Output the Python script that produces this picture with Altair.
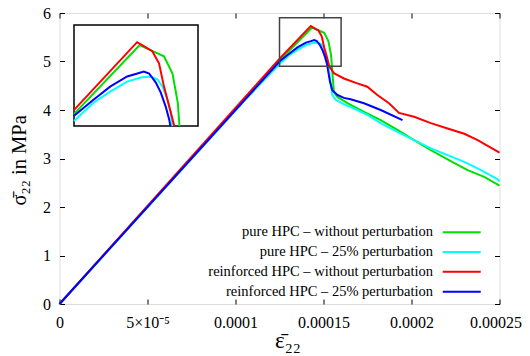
import altair as alt
import pandas as pd

# ---------------- data ----------------
series = [
    "pure HPC – without perturbation",
    "pure HPC – 25% perturbation",
    "reinforced HPC – without perturbation",
    "reinforced HPC – 25% perturbation",
]
colors = ["#00e000", "#00ffff", "#ff0000", "#0000ff"]

green_x = [0, 1.253e-4, 1.435e-4, 1.504e-4, 1.528e-4, 1.543e-4, 1.550e-4, 1.559e-4,
           1.579e-4, 1.636e-4, 1.730e-4, 1.825e-4, 1.920e-4, 2.015e-4, 2.110e-4,
           2.205e-4, 2.319e-4, 2.413e-4, 2.500e-4]
green_y = [0, 5.03, 5.70, 5.59, 5.42, 5.13, 4.79, 4.38, 4.27, 4.14, 3.96, 3.79, 3.59,
           3.38, 3.17, 2.98, 2.76, 2.62, 2.44]

cyan_x = [0, 1.050e-4, 1.253e-4, 1.305e-4, 1.352e-4, 1.400e-4, 1.438e-4, 1.466e-4,
          1.486e-4, 1.500e-4, 1.514e-4, 1.523e-4, 1.528e-4, 1.540e-4, 1.550e-4,
          1.569e-4, 1.616e-4, 1.692e-4, 1.749e-4, 1.825e-4, 1.920e-4, 2.015e-4,
          2.110e-4, 2.205e-4, 2.300e-4, 2.395e-4, 2.490e-4, 2.500e-4]
cyan_y = [0, 4.19, 4.96, 5.13, 5.24, 5.34, 5.38, 5.39, 5.36, 5.29, 5.16, 5.03, 4.90,
          4.58, 4.31, 4.21, 4.12, 4.00, 3.90, 3.73, 3.55, 3.38, 3.21, 3.07, 2.93,
          2.76, 2.57, 2.53]

red_x = [0, 1.253e-4, 1.428e-4, 1.447e-4, 1.471e-4, 1.490e-4, 1.504e-4, 1.519e-4,
         1.533e-4, 1.559e-4, 1.616e-4, 1.692e-4, 1.749e-4, 1.806e-4, 1.872e-4,
         1.929e-4, 2.015e-4, 2.110e-4, 2.205e-4, 2.300e-4, 2.376e-4, 2.433e-4,
         2.500e-4]
red_y = [0, 5.07, 5.73, 5.69, 5.64, 5.52, 5.29, 5.09, 4.90, 4.76, 4.65, 4.55, 4.48,
         4.31, 4.14, 3.94, 3.86, 3.73, 3.62, 3.51, 3.38, 3.26, 3.12]

blue_x = [0, 1.050e-4, 1.253e-4, 1.305e-4, 1.352e-4, 1.400e-4, 1.429e-4, 1.447e-4,
          1.462e-4, 1.481e-4, 1.495e-4, 1.509e-4, 1.519e-4, 1.537e-4, 1.550e-4,
          1.579e-4, 1.616e-4, 1.654e-4, 1.730e-4, 1.825e-4, 1.949e-4]
blue_y = [0, 4.20, 5.01, 5.16, 5.29, 5.39, 5.42, 5.44, 5.42, 5.33, 5.23, 5.09, 4.96,
          4.58, 4.41, 4.31, 4.25, 4.22, 4.14, 4.00, 3.79]

x_ticks = [0, 5e-5, 1e-4, 1.5e-4, 2e-4, 2.5e-4]
x_tick_labels = ["0", "5×10⁻⁵", "0.0001", "0.00015", "0.0002", "0.00025"]
y_ticks = [0, 1, 2, 3, 4, 5, 6]

x_domain = [0, 2.5e-4]
y_domain = [0, 6]
# zoomed window shown in the inset
zoom_x = [1.25e-4, 1.60e-4]
zoom_y = [4.9, 5.9]

# ---------------- layout / style ----------------
W, H = 440, 291
SERIF = "Liberation Serif"
inset_x_range = [14.5, 138.5]
inset_y_range = [113, 12]

all_xy = [(green_x, green_y), (cyan_x, cyan_y), (red_x, red_y), (blue_x, blue_y)]

rows = []
for k, (xs, ys) in enumerate(all_xy):
    for i, (x, y) in enumerate(zip(xs, ys)):
        rows.append({"strain": x, "stress": y, "series": series[k], "col": colors[k],
                     "o": k * 1000 + i})
df = pd.DataFrame(rows)


def clip_seg(p0, p1, xmin, xmax, ymin, ymax):
    x0, y0 = p0
    x1, y1 = p1
    dx, dy = x1 - x0, y1 - y0
    t0, t1 = 0.0, 1.0
    for p, q in ((-dx, x0 - xmin), (dx, xmax - x0), (-dy, y0 - ymin), (dy, ymax - y0)):
        if p == 0:
            if q < 0:
                return None
        else:
            r = q / p
            if p < 0:
                if r > t1:
                    return None
                t0 = max(t0, r)
            else:
                if r < t0:
                    return None
                t1 = min(t1, r)
    return (x0 + t0 * dx, y0 + t0 * dy), (x0 + t1 * dx, y0 + t1 * dy)


inset_rows = []
for k, (xs, ys) in enumerate(all_xy):
    pts = []
    for i in range(len(xs) - 1):
        seg = clip_seg((xs[i], ys[i]), (xs[i + 1], ys[i + 1]),
                       zoom_x[0], zoom_x[1], zoom_y[0], zoom_y[1])
        if seg is None:
            continue
        for p in seg:
            if not pts or abs(pts[-1][0] - p[0]) > 1e-12 or abs(pts[-1][1] - p[1]) > 1e-9:
                pts.append(p)
    for i, (x, y) in enumerate(pts):
        inset_rows.append({"strain": x, "stress": y, "series": series[k], "col": colors[k],
                           "o": k * 1000 + i})
df_inset = pd.DataFrame(inset_rows)
df_box = pd.DataFrame({"x": [zoom_x[0]], "x2": [zoom_x[1]], "y": [zoom_y[0]], "y2": [zoom_y[1]]})

label_expr = "[" + ",".join("'%s'" % s for s in x_tick_labels) + "][round(datum.value*20000)]"

xs_main = alt.Scale(domain=x_domain, nice=False, zero=False)
ys_main = alt.Scale(domain=y_domain, nice=False, zero=False)

# main lines with labelled axes
lines = alt.Chart(df).mark_line(strokeWidth=2).encode(
    x=alt.X("strain:Q", scale=xs_main,
            axis=alt.Axis(orient="bottom", values=x_ticks, labelExpr=label_expr,
                          ticks=False, tickSize=0, domain=False, grid=False,
                          labelFont=SERIF, labelFontSize=16, labelColor="black",
                          labelPadding=10, labelFlush=False, labelOverlap=False,
                          labelOffset={"condition": {"test": "datum.value > 0.00024",
                                                     "value": -4}, "value": 0},
                          title="ε̄₂₂", titleFont=SERIF, titleFontSize=23,
                          titleFontWeight="normal", titleColor="black",
                          titleAlign="left", titleBaseline="alphabetic",
                          titleX=215, titleY=43)),
    y=alt.Y("stress:Q", scale=ys_main,
            axis=alt.Axis(orient="left", values=y_ticks, format="d",
                          ticks=False, tickSize=0, domain=False, grid=False,
                          labelFont=SERIF, labelFontSize=16, labelColor="black",
                          labelPadding=9, labelOverlap=False,
                          title="σ̄₂₂ in MPa", titleFont=SERIF, titleFontSize=20.5,
                          titleFontWeight="normal", titleColor="black",
                          titleAlign="left", titleAngle=270, titleBaseline="alphabetic",
                          titleX=-34, titleY=192)),
    color=alt.Color("series:N", scale=alt.Scale(domain=series, range=colors),
                    legend=alt.Legend(orient="none", legendX=395, legendY=212, title=None,
                                      symbolType="M-4,0H4", symbolSize=90.25,
                                      symbolStrokeWidth=2, labelAlign="right",
                                      labelOffset={"expr": "-36"}, labelFont=SERIF,
                                      labelFontSize=14.5, labelColor="black",
                                      labelLimit=0, rowPadding=4.8,
                                      padding=0)),
    order=alt.Order("o:Q"),
)


def tick_layer(xorient, yorient):
    return alt.Chart(df).mark_line(strokeOpacity=0).encode(
        x=alt.X("strain:Q", scale=xs_main,
                axis=alt.Axis(orient=xorient, offset=-H, values=x_ticks, labels=False,
                              ticks=True, tickSize=5, tickColor="black", tickWidth=1,
                              domain=False, grid=False, title=None)),
        y=alt.Y("stress:Q", scale=ys_main,
                axis=alt.Axis(orient=yorient, offset=-W, values=y_ticks, labels=False,
                              ticks=True, tickSize=5, tickColor="black", tickWidth=1,
                              domain=False, grid=False, title=None)),
        detail="series:N",
    )


zoombox = alt.Chart(df_box).mark_rect(fillOpacity=0, stroke="#444444", strokeWidth=1.5).encode(
    x=alt.X("x:Q", scale=xs_main, axis=None),
    x2="x2:Q",
    y=alt.Y("y:Q", scale=ys_main, axis=None),
    y2="y2:Q",
)

main = alt.layer(lines, tick_layer("top", "right"), tick_layer("bottom", "left"), zoombox
                 ).resolve_axis(x="independent", y="independent")

xs_in = alt.Scale(domain=zoom_x, range=inset_x_range, nice=False, zero=False)
ys_in = alt.Scale(domain=zoom_y, range=inset_y_range, nice=False, zero=False)

inset_frame = alt.Chart(df_box).mark_rect(fill="white", stroke="black", strokeWidth=1.5).encode(
    x=alt.X("x:Q", scale=xs_in, axis=None),
    x2="x2:Q",
    y=alt.Y("y:Q", scale=ys_in, axis=None),
    y2="y2:Q",
)
inset_lines = alt.Chart(df_inset).mark_line(strokeWidth=2).encode(
    x=alt.X("strain:Q", scale=xs_in, axis=None),
    y=alt.Y("stress:Q", scale=ys_in, axis=None),
    color=alt.Color("col:N", scale=None),
    detail="series:N",
    order=alt.Order("o:Q"),
)
inset = alt.layer(inset_frame, inset_lines)

chart = alt.layer(main, inset).resolve_scale(x="independent", y="independent").properties(
    width=W, height=H,
    autosize=alt.AutoSizeParams(type="none"),
    padding={"left": 51.5, "top": 5, "right": 22, "bottom": 51},
).configure_view(stroke="black", strokeWidth=1.5).configure(background="white")

chart.save("out.html", embed_options={"renderer": "svg", "actions": False})
